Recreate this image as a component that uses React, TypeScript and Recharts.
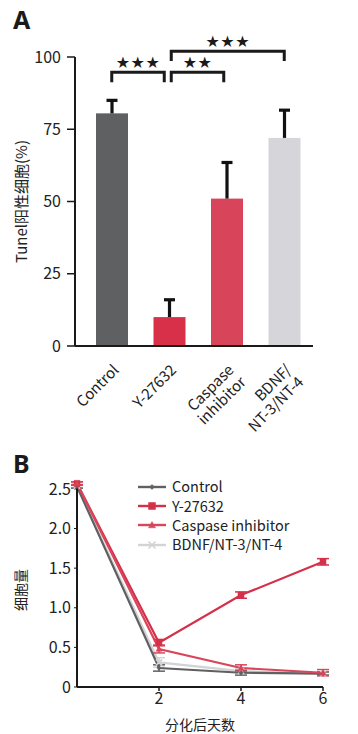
import React from "react"
import {
  BarChart,
  Bar,
  Cell,
  LineChart,
  Line,
  XAxis,
  YAxis,
  ErrorBar,
  ReferenceLine
} from "recharts"

const FONT = '"Noto Sans CJK SC", "Noto Sans", sans-serif'
const INK = "#1a1a1a"

// panel A
const groups = ["Control", "Y-27632", "Caspase inhibitor", "BDNF/NT-3/NT-4"]
const groupLines = [["Control"], ["Y-27632"], ["Caspase", "inhibitor"], ["BDNF/", "NT-3/NT-4"]]
const tunel = [80.5, 10, 51, 72]
const tunelErr = [4.5, 6, 12.5, 9.6]
const barColors = ["#5f6062", "#d9304a", "#d84459", "#d6d5da"]
const tunelTicks = [0, 25, 50, 75, 100]

// significance brackets
const sigFrom = ["Control", "Y-27632", "Y-27632"]
const sigTo = ["Y-27632", "Caspase inhibitor", "BDNF/NT-3/NT-4"]
const sigTop = [94.7, 94.7, 102]
const sigLeg = [91.3, 91.3, 98.6]
const sigStars = ["★★★", "★★", "★★★"]

// panel B
const days = [0, 2, 4, 6]
const control = [2.53, 0.24, 0.18, 0.17]
const controlErr = [0.02, 0.04, 0.03, 0.02]
const y27632 = [2.57, 0.56, 1.16, 1.58]
const y27632Err = [0.02, 0.04, 0.04, 0.04]
const caspase = [2.57, 0.48, 0.24, 0.18]
const caspaseErr = [0.02, 0.05, 0.04, 0.04]
const bdnf = [2.54, 0.31, 0.2, 0.17]
const bdnfErr = [0.02, 0.06, 0.03, 0.02]
const countTicks = [0, 0.5, 1, 1.5, 2, 2.5]
const dayTicks = [2, 4, 6]

const barData = groups.map((g, i) => ({ name: g, value: tunel[i], err: tunelErr[i] }))

const lineData = days.map((d, i) => ({
  day: d,
  control: control[i],
  controlErr: controlErr[i],
  y27632: y27632[i],
  y27632Err: y27632Err[i],
  caspase: caspase[i],
  caspaseErr: caspaseErr[i],
  bdnf: bdnf[i],
  bdnfErr: bdnfErr[i]
}))

const series = [
  { key: "control", name: "Control", color: "#5f6062", marker: "diamond" },
  { key: "y27632", name: "Y-27632", color: "#d5304a", marker: "square" },
  { key: "caspase", name: "Caspase inhibitor", color: "#d9455a", marker: "triangle" },
  { key: "bdnf", name: "BDNF/NT-3/NT-4", color: "#d3d3d6", marker: "cross" }
]

const markerPath = (kind: string, cx: number, cy: number, s: number) => {
  if (kind === "diamond") return `M${cx},${cy - s}L${cx + s},${cy}L${cx},${cy + s}L${cx - s},${cy}Z`
  if (kind === "square") return `M${cx - s},${cy - s}h${2 * s}v${2 * s}h${-2 * s}Z`
  if (kind === "triangle") return `M${cx},${cy - s}L${cx + s},${cy + s * 0.8}L${cx - s},${cy + s * 0.8}Z`
  return `M${cx - s},${cy - s}L${cx + s},${cy + s}M${cx + s},${cy - s}L${cx - s},${cy + s}`
}

const Marker = (kind: string, color: string, size: number) => (p: any) => (
  <path
    key={`m-${kind}-${p.index}`}
    d={markerPath(kind, p.cx, p.cy, size)}
    fill={kind === "cross" ? "none" : color}
    stroke={color}
    strokeWidth={kind === "cross" ? 1.6 : 0.5}
  />
)

const BarWithErr = (p: any) => {
  const { x, y, width, height, fill, payload } = p
  const ey = y - (height * payload.err) / payload.value
  const cx = x + width / 2
  return (
    <g>
      <rect x={x} y={y} width={width} height={height} fill={fill} />
      <line x1={cx} x2={cx} y1={y} y2={ey} stroke="#111" strokeWidth={3.2} />
      <line x1={cx - 5.5} x2={cx + 5.5} y1={ey} y2={ey} stroke="#111" strokeWidth={3.2} />
    </g>
  )
}

const GroupTick = (p: any) => {
  const lines = groupLines[groups.indexOf(p.payload.value)] || [p.payload.value]
  return (
    <g transform={`translate(${p.x + 8},${p.y + 25})`}>
      <text transform="rotate(-45)" textAnchor="end" fontSize={15} fill="#222" fontFamily={FONT}>
        {lines.map((l, i) => (
          <tspan key={i} x={0} dy={i === 0 ? 0 : 17}>
            {l}
          </tspan>
        ))}
      </text>
    </g>
  )
}

const bracket = (stars: string, legPx: () => number, insetL: number, insetR: number) => (p: any) => {
  const x1 = Math.min(p.x1, p.x2) + insetL
  const x2 = Math.max(p.x1, p.x2) - insetR
  const y = p.y1
  const leg = legPx()
  return (
    <g>
      <path
        d={`M${x1},${y + leg}V${y}H${x2}V${y + leg}`}
        fill="none"
        stroke={INK}
        strokeWidth={3}
      />
      <text
        x={(x1 + x2) / 2}
        y={y - 4}
        textAnchor="middle"
        fontSize={16}
        letterSpacing={0.5}
        fill={INK}
        fontFamily='"DejaVu Sans", sans-serif'
      >
        {stars}
      </text>
    </g>
  )
}

const VLabel = (text: string, x: number, dy: number, size: number) => (p: any) => {
  const vb = p.viewBox
  const cy = vb.y + vb.height / 2 + dy
  return (
    <text
      x={x}
      y={cy}
      transform={`rotate(-90, ${x}, ${cy})`}
      textAnchor="middle"
      dominantBaseline="central"
      fontSize={size}
      fill="#222"
      fontFamily={FONT}
    >
      {text}
    </text>
  )
}

const LegendBox = () => (
  <div style={{ fontFamily: FONT, fontSize: 14.5, color: "#222", lineHeight: 1 }}>
    {series.map((s) => (
      <div key={s.key} style={{ display: "flex", alignItems: "center", height: 19.3 }}>
        <svg width={28} height={12} style={{ marginRight: 6 }}>
          <line x1={0} x2={28} y1={6} y2={6} stroke={s.color} strokeWidth={2.4} />
          <path
            d={markerPath(s.marker, 14, 6, s.marker === "diamond" ? 2.5 : 3.5)}
            fill={s.marker === "cross" ? "none" : s.color}
            stroke={s.color}
            strokeWidth={s.marker === "cross" ? 1.6 : 0.5}
          />
        </svg>
        <span>{s.name}</span>
      </div>
    ))}
  </div>
)

const panelLetter: React.CSSProperties = {
  position: "absolute",
  left: 13,
  fontFamily: '"Noto Sans", sans-serif',
  fontWeight: 700,
  fontSize: 25,
  color: INK,
  lineHeight: 1
}

export default function App() {
  return (
    <div style={{ position: "absolute", left: 0, top: 0, width: 358, height: 734, background: "#fff" }}>
      <div style={{ ...panelLetter, top: 7 }}>A</div>
      <div style={{ ...panelLetter, top: 451 }}>B</div>

      <div style={{ position: "absolute", left: 0, top: 0 }}>
        <BarChart
          width={358}
          height={440}
          data={barData}
          margin={{ top: 57, right: 45, bottom: 0, left: 0 }}
          barSize={32}
        >
          <XAxis
            dataKey="name"
            height={94}
            padding={{ left: 8, right: 0 }}
            axisLine={{ stroke: INK, strokeWidth: 2 }}
            tickLine={false}
            tickSize={0}
            tickMargin={0}
            interval={0}
            tick={<GroupTick />}
          />
          <YAxis
            width={75}
            domain={[0, 100]}
            ticks={tunelTicks}
            axisLine={{ stroke: INK, strokeWidth: 2 }}
            tickLine={{ stroke: INK, strokeWidth: 1.5 }}
            tickSize={8}
            tickMargin={6}
            tick={{ fontSize: 16, fill: "#222", fontFamily: FONT }}
            label={{ content: VLabel("Tunel阳性细胞(%)", 20, 0, 15) }}
          />
          <Bar dataKey="value" isAnimationActive={false} shape={BarWithErr}>
            {barData.map((d, i) => (
              <Cell key={d.name} fill={barColors[i]} />
            ))}
          </Bar>
          {sigFrom.map((f, i) => (
            <ReferenceLine
              key={`sig-${i}`}
              ifOverflow="visible"
              segment={[
                { x: f, y: sigTop[i] },
                { x: sigTo[i], y: sigTop[i] }
              ]}
              shape={bracket(
                sigStars[i],
                () => ((sigTop[i] - sigLeg[i]) / 100) * 289,
                i === 0 ? 0 : 2,
                i === 0 ? 5 : i === 1 ? 3 : 0
              )}
            />
          ))}
        </BarChart>
      </div>

      <div style={{ position: "absolute", left: 0, top: 440 }}>
        <LineChart
          width={358}
          height={294}
          data={lineData}
          margin={{ top: 41, right: 35, bottom: 0, left: 0 }}
        >
          <XAxis
            dataKey="day"
            type="number"
            domain={[0, 6]}
            ticks={dayTicks}
            height={47}
            axisLine={{ stroke: INK, strokeWidth: 2 }}
            tickLine={{ stroke: INK, strokeWidth: 1.5 }}
            tickSize={4}
            tickMargin={2}
            tick={{ fontSize: 16, fill: "#222", fontFamily: FONT }}
            label={{
              value: "分化后天数",
              position: "insideBottom",
              offset: 4,
              fontSize: 14,
              fill: "#222",
              fontFamily: FONT
            }}
          />
          <YAxis
            width={77}
            domain={[0, 2.6]}
            ticks={countTicks}
            tickFormatter={(v: number) => (v === 0 ? "0" : v.toFixed(1))}
            axisLine={{ stroke: INK, strokeWidth: 2 }}
            tickLine={{ stroke: INK, strokeWidth: 1 }}
            tickSize={3}
            tickMargin={3}
            tick={{ fontSize: 16, fill: "#222", fontFamily: FONT }}
            label={{ content: VLabel("细胞量", 20, 6, 14) }}
          />
          {[series[3], series[0], series[1], series[2]].map((s) => (
            <Line
              key={s.key}
              dataKey={s.key}
              name={s.name}
              stroke={s.color}
              strokeWidth={2.2}
              isAnimationActive={false}
              dot={Marker(s.marker, s.color, s.marker === "diamond" ? 2.2 : 3)}
              activeDot={false}
            >
              <ErrorBar dataKey={`${s.key}Err`} direction="y" width={6} stroke={s.color} strokeWidth={1.5} />
            </Line>
          ))}
        </LineChart>
      </div>

      <div style={{ position: "absolute", left: 138, top: 477 }}>
        <LegendBox />
      </div>
    </div>
  )
}
